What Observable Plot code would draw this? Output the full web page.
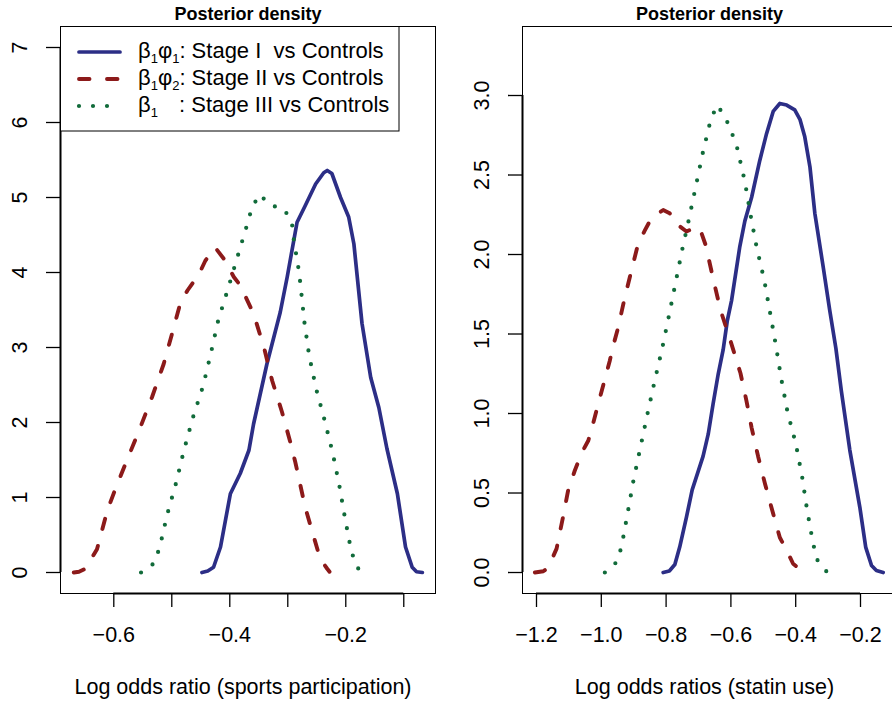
<!DOCTYPE html>
<html>
<head>
<meta charset="utf-8">
<script src="https://cdn.jsdelivr.net/npm/d3@7"></script>
<script src="https://cdn.jsdelivr.net/npm/@observablehq/plot@0.6"></script>
<style>
  html, body { margin: 0; padding: 0; background: white; }
  #wrap { position: relative; width: 892px; height: 702px; overflow: hidden; background: white; }
  #left { position: absolute; left: 0; top: 0; width: 446px; height: 702px; }
  #right { position: absolute; left: 446px; top: 0; width: 456px; height: 702px; }
  #left svg, #right svg { max-width: none !important; height: 702px !important; }
  #legend { position: absolute; left: 0; top: 0; pointer-events: none; }
</style>
</head>
<body>
<div id="wrap"><div id="left"></div><div id="right"></div><div id="legend"></div></div>
<script>
const FONT = "'Liberation Sans', Arial, Helvetica, sans-serif";

// ---- data: [log odds ratio, posterior density] ----
const sportsStageI = [[-0.448,0],[-0.438,0.02],[-0.428,0.07],[-0.416,0.34],[-0.399,1.05],[-0.382,1.32],[-0.367,1.63],[-0.359,1.98],[-0.336,2.78],[-0.313,3.47],[-0.301,3.94],[-0.284,4.67],[-0.27,4.89],[-0.252,5.18],[-0.238,5.33],[-0.232,5.36],[-0.224,5.32],[-0.209,5.0],[-0.195,4.74],[-0.186,4.38],[-0.172,3.32],[-0.157,2.60],[-0.143,2.20],[-0.129,1.65],[-0.111,1.05],[-0.097,0.34],[-0.0855,0.07],[-0.078,0.01],[-0.068,0]];
const sportsStageII = [[-0.669,0],[-0.66,0.01],[-0.649,0.05],[-0.629,0.31],[-0.611,0.83],[-0.597,1.12],[-0.574,1.56],[-0.554,1.94],[-0.534,2.34],[-0.514,2.78],[-0.499,3.20],[-0.485,3.60],[-0.473,3.76],[-0.453,3.98],[-0.442,4.16],[-0.425,4.33],[-0.41,4.18],[-0.393,3.94],[-0.382,3.83],[-0.359,3.45],[-0.341,3.00],[-0.327,2.56],[-0.31,2.14],[-0.295,1.72],[-0.287,1.47],[-0.27,0.87],[-0.255,0.47],[-0.244,0.18],[-0.232,0.05],[-0.228,0.01]];
const sportsStageIII = [[-0.553,0],[-0.531,0.12],[-0.521,0.33],[-0.508,0.77],[-0.4924,1.20],[-0.479,1.63],[-0.4638,2.06],[-0.4459,2.49],[-0.4327,2.92],[-0.42,3.36],[-0.4028,3.79],[-0.3867,4.21],[-0.370,4.64],[-0.362,4.86],[-0.349,5.04],[-0.33,4.90],[-0.306,4.84],[-0.293,4.67],[-0.2897,4.44],[-0.2804,4.0],[-0.2712,3.33],[-0.2631,2.89],[-0.2511,2.45],[-0.2362,2.02],[-0.2224,1.59],[-0.2109,1.15],[-0.201,0.71],[-0.1902,0.27],[-0.1793,0.07],[-0.176,0]];

const statinStageI = [[-0.809,0],[-0.79,0.01],[-0.773,0.05],[-0.758,0.16],[-0.737,0.35],[-0.7195,0.52],[-0.686,0.73],[-0.670,0.87],[-0.655,1.06],[-0.639,1.25],[-0.624,1.40],[-0.611,1.585],[-0.598,1.71],[-0.5725,2.05],[-0.557,2.21],[-0.536,2.36],[-0.511,2.59],[-0.49,2.76],[-0.4695,2.90],[-0.449,2.95],[-0.428,2.94],[-0.403,2.91],[-0.387,2.85],[-0.372,2.74],[-0.356,2.55],[-0.341,2.26],[-0.315,1.92],[-0.295,1.65],[-0.276,1.41],[-0.259,1.14],[-0.233,0.77],[-0.202,0.41],[-0.184,0.16],[-0.166,0.044],[-0.151,0.013],[-0.13,0]];
const statinStageII = [[-1.205,0],[-1.179,0.008],[-1.164,0.03],[-1.138,0.15],[-1.118,0.35],[-1.102,0.52],[-1.082,0.64],[-1.061,0.75],[-1.04,0.83],[-1.025,0.94],[-0.999,1.14],[-0.974,1.33],[-0.964,1.42],[-0.948,1.54],[-0.9275,1.73],[-0.902,1.94],[-0.886,2.07],[-0.866,2.15],[-0.845,2.23],[-0.809,2.28],[-0.789,2.26],[-0.773,2.20],[-0.737,2.145],[-0.704,2.175],[-0.69,2.13],[-0.678,2.06],[-0.655,1.85],[-0.632,1.65],[-0.601,1.455],[-0.5704,1.253],[-0.552,1.08],[-0.536,0.91],[-0.516,0.73],[-0.495,0.56],[-0.475,0.41],[-0.449,0.22],[-0.428,0.14],[-0.408,0.055],[-0.379,0.008]];
const statinStageIII = [[-0.989,0],[-0.953,0.065],[-0.9377,0.16],[-0.919,0.37],[-0.9006,0.58],[-0.880,0.78],[-0.8583,0.99],[-0.8358,1.20],[-0.812,1.41],[-0.7917,1.61],[-0.771,1.82],[-0.7503,2.03],[-0.7287,2.23],[-0.7071,2.44],[-0.6867,2.64],[-0.662,2.85],[-0.6423,2.94],[-0.6167,2.86],[-0.598,2.77],[-0.5806,2.67],[-0.557,2.46],[-0.5395,2.25],[-0.521,2.05],[-0.4972,1.84],[-0.4787,1.63],[-0.4613,1.43],[-0.4447,1.22],[-0.4253,1.01],[-0.3997,0.81],[-0.38,0.60],[-0.3646,0.39],[-0.346,0.18],[-0.3337,0.08],[-0.304,0.004]];

// ---- ticks and labels ----
const sportsXTicks = [-0.6,-0.5,-0.4,-0.3,-0.2,-0.1];
const sportsXTickLabels = ["\u22120.6","","\u22120.4","","\u22120.2",""];
const sportsYTicks = [0,1,2,3,4,5,6,7];
const sportsYTickLabels = ["0","1","2","3","4","5","6","7"];
const statinXTicks = [-1.2,-1.0,-0.8,-0.6,-0.4,-0.2];
const statinXTickLabels = ["\u22121.2","\u22121.0","\u22120.8","\u22120.6","\u22120.4","\u22120.2"];
const statinYTicks = [0,0.5,1,1.5,2,2.5,3];
const statinYTickLabels = ["0.0","0.5","1.0","1.5","2.0","2.5","3.0"];

const panelTitle = "Posterior density";
const sportsXTitle = "Log odds ratio (sports participation)";
const statinXTitle = "Log odds ratios (statin use)";

const seriesColors = ["#2c2e86", "#8c1a1a", "#116b3a"];
const seriesDash = [null, "10.5,17.5", "0,14"];
const seriesWidth = [3.7, 3.9, 4.2];
const legendSymbols = [["\u03b2","1","\u03c6","1"], ["\u03b2","1","\u03c6","2"], ["\u03b2","1"]];
const legendTexts = [": Stage I  vs Controls", ": Stage II vs Controls", ": Stage III vs Controls"];

function panel(o) {
  const lines = o.series.map((s, i) => Plot.line(s, {
    x: d => d[0], y: d => d[1],
    stroke: seriesColors[i], strokeWidth: seriesWidth[i],
    strokeDasharray: seriesDash[i], strokeLinecap: "round", strokeLinejoin: "round"
  }));
  return Plot.plot({
    width: o.width, height: 702,
    marginTop: 26, marginBottom: 109, marginLeft: o.marginLeft, marginRight: o.marginRight,
    x: {domain: o.xDomain},
    y: {domain: o.yDomain},
    style: {background: "white", color: "black", fontFamily: FONT, overflow: "visible", maxWidth: "none"},
    marks: [
      Plot.frame({stroke: "#000", strokeWidth: 1}),
      ...lines,
      Plot.ruleX([o.xDomain[0]], {y1: o.yTicks[0], y2: o.yTicks[o.yTicks.length-1], stroke: "#000", strokeWidth: 2}),
      Plot.ruleY([o.yDomain[0]], {x1: o.xTicks[0], x2: o.xTicks[o.xTicks.length-1], stroke: "#000", strokeWidth: 2}),
      Plot.axisY({ticks: o.yTicks, tickSize: 14, tickFormat: () => "", label: null, strokeWidth: 1.3}),
      Plot.text(o.yTicks, {y: d => d, text: (d, i) => o.yLabels[i], frameAnchor: "left", dx: -40,
        rotate: -90, textAnchor: "middle", lineAnchor: "middle", fontSize: 21.5}),
      Plot.axisX({ticks: o.xTicks, tickSize: 14, tickPadding: 19, label: null, strokeWidth: 1.3,
        tickFormat: d => o.xLabels[o.xTicks.indexOf(d)], fontSize: 21.5}),
      Plot.text([panelTitle], {frameAnchor: "top", dy: -12, lineAnchor: "middle", fontWeight: "bold", fontSize: 18}),
      Plot.text([o.xTitle], {frameAnchor: "bottom", dy: 94, dx: -5, lineAnchor: "middle", fontSize: 21.5})
    ]
  });
}

document.getElementById("left").append(panel({
  width: 446, marginLeft: 60, marginRight: 11,
  xDomain: [-0.6919, -0.0453], yDomain: [-0.28, 7.28],
  xTicks: sportsXTicks, xLabels: sportsXTickLabels,
  yTicks: sportsYTicks, yLabels: sportsYTickLabels,
  series: [sportsStageI, sportsStageII, sportsStageIII], xTitle: sportsXTitle
}));

document.getElementById("right").append(panel({
  width: 456, marginLeft: 76, marginRight: 6,
  xDomain: [-1.2432, -0.0889], yDomain: [-0.132, 3.434],
  xTicks: statinXTicks, xLabels: statinXTickLabels,
  yTicks: statinYTicks, yLabels: statinYTickLabels,
  series: [statinStageI, statinStageII, statinStageIII], xTitle: statinXTitle
}));

// ---- legend (top-left of left panel) ----
const lg = d3.select("#legend").append("svg").attr("width", 446).attr("height", 140)
  .style("font-family", FONT);
lg.append("rect").attr("x", 60.5).attr("y", 26.5).attr("width", 338.5).attr("height", 104.5)
  .attr("fill", "white").attr("stroke", "#000").attr("stroke-width", 1);
const rowY = [52, 79, 106];
legendTexts.forEach((t, i) => {
  const y = rowY[i];
  const ln = lg.append("line").attr("x1", 79).attr("x2", 120).attr("y1", y).attr("y2", y)
    .attr("stroke", seriesColors[i]).attr("stroke-width", seriesWidth[i]).attr("stroke-linecap", "round");
  if (seriesDash[i]) ln.attr("stroke-dasharray", seriesDash[i]);
  const tx = lg.append("text").attr("x", 138).attr("y", y + 6.3).attr("font-size", 22)
    .attr("fill", "#000").style("white-space", "pre");
  const sym = legendSymbols[i];
  for (let k = 0; k < sym.length; k += 2) {
    tx.append("tspan").attr("dy", k === 0 ? 0 : -5).text(sym[k]);
    tx.append("tspan").attr("dy", 5).attr("font-size", 13).text(sym[k+1]);
  }
  const tail = tx.append("tspan").attr("dy", -5).text(t);
  if (sym.length === 2) tail.attr("x", 179);
});
</script>
</body>
</html>
